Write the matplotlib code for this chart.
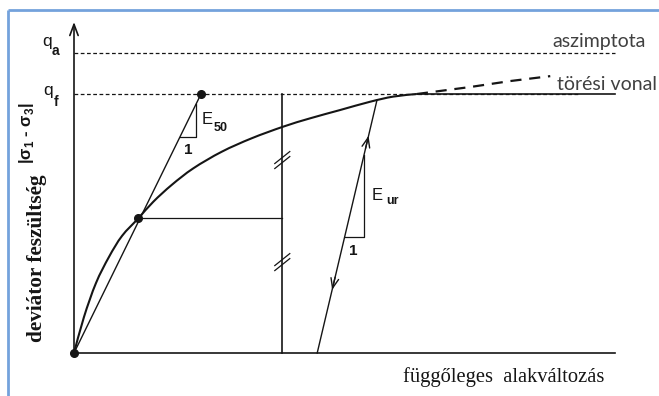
import matplotlib
matplotlib.use("Agg")
import matplotlib.pyplot as plt
import numpy as np
from matplotlib.lines import Line2D
from matplotlib.path import Path
from matplotlib.patches import PathPatch

# Hyperbolic stress-strain curve (strain in arbitrary units, deviator stress / q_f)
strain = [0.0, 0.157, 0.346, 0.551, 0.756, 1.013, 1.249, 1.539, 1.879, 2.326,
          2.798, 3.296, 3.717, 4.189, 4.661, 5.028, 5.397]
stress = [0.0, 0.139, 0.270, 0.371, 0.452, 0.520, 0.584, 0.649, 0.713, 0.777,
          0.829, 0.874, 0.906, 0.938, 0.970, 0.990, 1.0]

# continuation of the hyperbola beyond failure (dashed)
strain_ext = [5.40, 6.24, 6.87, 7.50]
stress_ext = [1.0, 1.027, 1.050, 1.069]

q_f = 1.0            # failure deviator stress
q_a = 1.158          # asymptotic deviator stress
strain_max = 8.52    # end of strain axis
stress_top = 1.278   # end of stress axis (arrow)

eps_f50 = 2.0                 # strain where the E50 secant reaches q_f
mid_point = (1.013, 0.520)    # curve point at 50 % of q_f
ref_strain = 3.28             # vertical reference line
breaks = [0.745, 0.351]       # break marks on the reference line

unload_start = (3.83, 0.0)    # unloading / reloading branch
unload_end = (4.77, 0.975)

INK = "#151515"
NOTE = "#404040"


def smooth_path(xs, ys):
    """Cubic Bezier path passing through the given points (Catmull-Rom tangents)."""
    pts = np.column_stack([xs, ys]).astype(float)
    n = len(pts)
    verts = [pts[0]]
    codes = [Path.MOVETO]
    for i in range(n - 1):
        p0 = pts[max(i - 1, 0)]
        p1 = pts[i]
        p2 = pts[i + 1]
        p3 = pts[min(i + 2, n - 1)]
        verts += [p1 + (p2 - p0) / 6, p2 - (p3 - p1) / 6, p2]
        codes += [Path.CURVE4] * 3
    return Path(verts, codes)


fig = plt.figure(figsize=(6.59, 3.96), dpi=100)
ax = fig.add_axes([0, 0, 1, 1])
ax.set_xlim(-74 / 63.5, (659 - 74) / 63.5)
ax.set_ylim((353 - 396) / 259, 353 / 259)
ax.axis("off")

# pixel size in data units (for small decorations)
dx = 1 / 63.5
dy = 1 / 259

# frame
fig.add_artist(Line2D([8 / 659, 8 / 659], [0, 1 - 10 / 396], transform=fig.transFigure,
                      color="#74a2dc", lw=2.0, solid_capstyle="butt"))
fig.add_artist(Line2D([8 / 659, 1], [1 - 10 / 396, 1 - 10 / 396], transform=fig.transFigure,
                      color="#74a2dc", lw=2.0, solid_capstyle="butt"))

# axes
ax.plot([0, strain_max], [0, 0], color=INK, lw=1.2)
ax.annotate("", xy=(0, stress_top), xytext=(0, 0),
            arrowprops=dict(arrowstyle="->,head_length=0.8,head_width=0.3",
                            lw=1.2, color=INK, shrinkA=0, shrinkB=0))

# asymptote and failure level
ax.plot([0, strain_max], [q_a, q_a], color=INK, lw=0.9, ls=(0, (3, 2)))
ax.plot([0, 7.97], [q_f, q_f], color=INK, lw=0.9, ls=(0, (3, 2)))
ax.plot([strain[-1], strain_max], [q_f, q_f], color=INK, lw=1.2)

# stress-strain curve
ax.add_patch(PathPatch(smooth_path(strain, stress), fill=False, edgecolor=INK,
                       lw=1.5, joinstyle="round"))
ax.plot(strain_ext, stress_ext, color=INK, lw=1.6, ls=(0, (5, 3.5)))

# E50 secant
ax.plot([0, eps_f50], [0, q_f], color=INK, lw=1.0)
ax.plot([0, mid_point[0], eps_f50], [0, mid_point[1], q_f], ls="none",
        marker="o", ms=5.5, color=INK)

# reference lines
ax.plot([mid_point[0], ref_strain], [mid_point[1], mid_point[1]], color=INK, lw=0.9)
ax.plot([ref_strain, ref_strain], [0, q_f], color=INK, lw=1.2)
for qb in breaks:
    for off in (-2.5, 2.5):
        ax.plot([ref_strain - 7.5 * dx, ref_strain + 7.5 * dx],
                [qb - 6 * dy + off * dy, qb + 6 * dy + off * dy], color=INK, lw=0.9)

# E50 slope triangle
t_y = 0.834
t_x0 = t_y * eps_f50 / q_f
t_x1 = 1.92
ax.plot([t_x0, t_x1, t_x1], [t_y, t_y, t_x1 * q_f / eps_f50], color=INK, lw=0.9)
ax.text(t_x1 + 6 * dx, 0.900, "E", fontsize=12, family="Liberation Sans",
        color=INK, ha="left", va="center")
ax.text(t_x1 + 18 * dx, 0.870, "50", fontsize=9, family="Liberation Sans",
        color=INK, ha="left", va="center", weight="bold")
ax.text(t_x0 + 8 * dx, 0.785, "1", fontsize=11, family="Liberation Sans",
        color=INK, ha="center", va="center", weight="bold")

# unloading / reloading branch
ux0, uy0 = unload_start
ux1, uy1 = unload_end
ax.plot([ux0, ux1], [uy0, uy1], color=INK, lw=1.0)
for frac, step in ((0.86, -0.05), (0.25, 0.05)):
    tx = ux0 + frac * (ux1 - ux0)
    ty = uy0 + frac * (uy1 - uy0)
    bx = ux0 + (frac + step) * (ux1 - ux0)
    by = uy0 + (frac + step) * (uy1 - uy0)
    ax.annotate("", xy=(tx, ty), xytext=(bx, by),
                arrowprops=dict(arrowstyle="->,head_length=0.7,head_width=0.28",
                                lw=1.0, color=INK, shrinkA=0, shrinkB=0))

# Eur slope triangle
r_y = 0.448
r_x0 = ux0 + (r_y - uy0) / (uy1 - uy0) * (ux1 - ux0)
r_x1 = 4.567
r_top = uy0 + (r_x1 - ux0) / (ux1 - ux0) * (uy1 - uy0)
ax.plot([r_x0, r_x1, r_x1], [r_y, r_y, r_top], color=INK, lw=0.9)
ax.text(r_x1 + 8 * dx, 0.610, "E", fontsize=12, family="Liberation Sans",
        color=INK, ha="left", va="center")
ax.text(r_x1 + 22 * dx, 0.585, "ur", fontsize=9, family="Liberation Sans",
        color=INK, ha="left", va="center", weight="bold")
ax.text(r_x0 + 9 * dx, 0.395, "1", fontsize=11, family="Liberation Sans",
        color=INK, ha="center", va="center", weight="bold")

# level labels
ax.text(-32 * dx, q_a + 12 * dy, "q", fontsize=12.5, family="Liberation Sans",
        color=INK, ha="left", va="center")
ax.text(-22 * dx, q_a + 2 * dy, "a", fontsize=10, family="Liberation Sans",
        color=INK, ha="left", va="center", weight="bold")
ax.text(-31 * dx, q_f + 3 * dy, "q", fontsize=12.5, family="Liberation Sans",
        color=INK, ha="left", va="center")
ax.text(-20 * dx, q_f - 8 * dy, "f", fontsize=10, family="Liberation Sans",
        color=INK, ha="left", va="center", weight="bold")

ax.text(7.54, q_a + 6 * dy, "aszimptota", fontsize=14, family="Lato",
        color=NOTE, ha="left", va="baseline")
ax.text(7.61, q_f + 4 * dy, "törési vonal", fontsize=14, family="Lato",
        color=NOTE, ha="left", va="baseline")

# axis titles
ax.text(5.18, -0.112, "függőleges  alakváltozás", fontsize=14.8,
        family="Liberation Serif", color=INK, ha="left", va="baseline")
ax.text(-37 * dx, (353 - 258) / 259, "deviátor feszültség", fontsize=15.3,
        family="Liberation Serif", weight="bold", color=INK, rotation=90,
        ha="center", va="center")
ax.text(-48 * dx, (353 - 133) / 259, r"|σ$_\mathregular{1}$ - σ$_\mathregular{3}$|",
        fontsize=12, family="Liberation Sans", weight="bold", color=INK, rotation=90,
        ha="center", va="center")

fig.savefig("out.png", dpi=100)
